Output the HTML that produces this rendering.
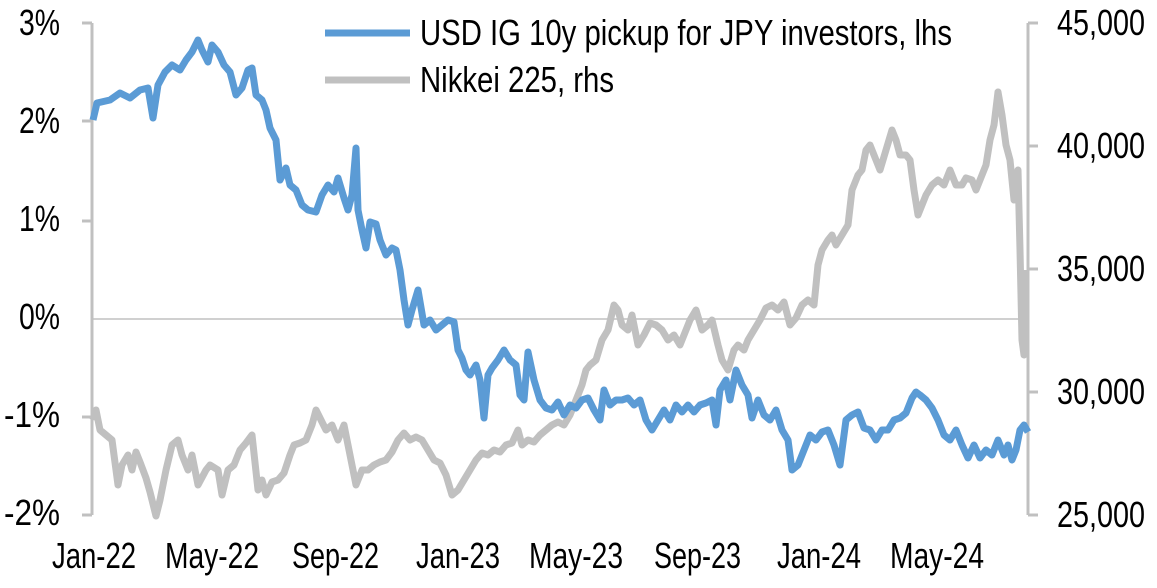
<!DOCTYPE html>
<html><head><meta charset="utf-8"><style>
html,body{margin:0;padding:0;background:#fff;}
svg{display:block;font-family:"Liberation Sans",Arial,sans-serif;}
text{font-size:36px;fill:#000;}
</style></head><body>
<svg width="1157" height="588" viewBox="0 0 1157 588">
<line x1="92" y1="319" x2="1028" y2="319" stroke="#d0d0d0" stroke-width="2"/>
<g stroke="#c0c0c0" stroke-width="3" fill="none">
<line x1="92" y1="23" x2="92" y2="515"/>
<line x1="82" y1="515" x2="92" y2="515"/>
<line x1="82" y1="417" x2="92" y2="417"/>
<line x1="82" y1="221" x2="92" y2="221"/>
<line x1="82" y1="121" x2="92" y2="121"/>
<line x1="82" y1="23" x2="92" y2="23"/>
<line x1="1028" y1="23" x2="1028" y2="515"/>
<line x1="1028" y1="515" x2="1038" y2="515"/>
<line x1="1028" y1="392" x2="1038" y2="392"/>
<line x1="1028" y1="269" x2="1038" y2="269"/>
<line x1="1028" y1="146" x2="1038" y2="146"/>
<line x1="1028" y1="23" x2="1038" y2="23"/>
</g>
<g>
<text x="19" y="35" textLength="41" lengthAdjust="spacingAndGlyphs">3%</text>
<text x="19" y="133" textLength="41" lengthAdjust="spacingAndGlyphs">2%</text>
<text x="19" y="231" textLength="41" lengthAdjust="spacingAndGlyphs">1%</text>
<text x="19" y="329" textLength="41" lengthAdjust="spacingAndGlyphs">0%</text>
<text x="4" y="427" textLength="56" lengthAdjust="spacingAndGlyphs">-1%</text>
<text x="4" y="525" textLength="56" lengthAdjust="spacingAndGlyphs">-2%</text>
<text x="1057" y="35" textLength="88" lengthAdjust="spacingAndGlyphs">45,000</text>
<text x="1057" y="158" textLength="88" lengthAdjust="spacingAndGlyphs">40,000</text>
<text x="1057" y="281" textLength="88" lengthAdjust="spacingAndGlyphs">35,000</text>
<text x="1057" y="404" textLength="88" lengthAdjust="spacingAndGlyphs">30,000</text>
<text x="1057" y="527" textLength="88" lengthAdjust="spacingAndGlyphs">25,000</text>
<text x="52" y="568" textLength="84" lengthAdjust="spacingAndGlyphs">Jan-22</text>
<text x="165" y="568" textLength="94" lengthAdjust="spacingAndGlyphs">May-22</text>
<text x="292" y="568" textLength="87" lengthAdjust="spacingAndGlyphs">Sep-22</text>
<text x="416" y="568" textLength="84" lengthAdjust="spacingAndGlyphs">Jan-23</text>
<text x="529" y="568" textLength="94" lengthAdjust="spacingAndGlyphs">May-23</text>
<text x="654" y="568" textLength="87" lengthAdjust="spacingAndGlyphs">Sep-23</text>
<text x="777" y="568" textLength="84" lengthAdjust="spacingAndGlyphs">Jan-24</text>
<text x="890" y="568" textLength="94" lengthAdjust="spacingAndGlyphs">May-24</text>
</g>
<polyline fill="none" stroke="#c0c0c0" stroke-width="7" stroke-linejoin="round" points="93,420 96,410 100,430 106,435 112,440 118,485 122,465 128,455 132,470 136,452 140,462 146,478 150,492 156,516 160,500 166,470 172,445 178,440 182,455 188,470 192,455 198,485 206,470 210,465 218,470 222,495 228,470 234,465 240,450 246,443 252,435 258,490 262,480 266,495 272,482 278,480 284,473 290,455 294,445 300,443 306,440 312,425 316,410 320,418 326,430 332,425 338,440 344,425 350,455 356,485 362,470 368,470 374,465 380,462 386,460 392,452 398,440 404,433 410,440 416,437 422,440 428,450 434,460 440,463 446,475 452,495 458,490 464,480 470,470 476,460 482,453 488,455 494,450 500,452 506,445 512,443 518,430 522,445 528,440 534,442 540,435 546,430 552,425 558,422 564,425 570,415 576,400 582,385 586,370 590,365 596,360 602,340 608,330 614,305 618,310 622,325 628,330 632,315 638,345 644,335 650,323 656,325 662,330 668,340 674,335 680,345 686,330 690,320 696,310 702,330 708,325 712,320 718,345 722,360 728,370 734,350 738,345 744,350 748,340 754,330 760,320 766,308 772,305 778,310 784,302 790,325 796,318 802,305 808,300 814,305 818,265 822,250 828,240 832,235 836,245 842,235 848,225 852,190 858,175 862,170 866,150 870,145 876,160 880,170 886,150 892,130 896,140 900,155 906,155 910,160 914,190 918,215 922,205 926,195 932,185 938,180 944,185 950,170 956,185 962,185 966,178 972,180 976,190 982,175 986,165 990,140 994,125 998,92 1002,115 1006,145 1010,160 1014,200 1018,170 1020,250 1022,340 1024,355 1026,270"/>
<polyline fill="none" stroke="#5b9bd5" stroke-width="7" stroke-linejoin="round" points="93,120 97,103 110,100 120,93 130,98 140,90 148,88 153,118 158,85 165,72 172,65 180,70 186,60 192,52 198,40 202,50 208,62 212,45 218,52 224,65 230,72 236,95 242,88 248,70 252,68 256,95 262,100 266,110 270,128 276,140 280,180 286,168 290,185 296,190 302,205 308,210 316,212 322,195 328,185 334,192 338,178 344,198 348,210 352,195 356,148 358,210 362,230 366,248 370,222 376,224 380,240 386,255 392,248 396,250 400,270 404,300 408,325 412,310 418,290 424,325 430,320 436,330 442,325 448,320 454,322 458,350 462,358 466,370 470,375 476,365 480,380 484,418 488,375 492,368 498,360 504,350 510,360 516,365 520,395 524,400 528,352 534,380 540,400 546,408 552,410 558,402 564,415 570,405 576,408 582,400 588,398 594,410 600,420 604,390 610,405 616,400 622,400 628,398 634,405 640,400 646,420 652,430 658,420 664,410 670,420 676,405 682,412 688,405 694,412 700,405 706,403 712,400 716,425 720,390 726,380 730,400 736,370 742,385 748,395 752,418 758,400 764,415 770,420 776,410 782,430 788,440 792,470 798,465 804,450 810,435 816,440 822,432 828,430 834,445 840,465 846,420 852,415 858,412 864,428 870,430 876,440 882,430 888,430 894,420 900,418 906,413 912,398 916,392 920,395 926,400 932,408 938,420 944,435 950,440 956,430 962,445 968,458 974,445 980,458 986,450 992,455 998,440 1004,455 1008,445 1012,460 1016,450 1020,430 1024,425 1028,432"/>
<line x1="325" y1="33" x2="410" y2="33" stroke="#5b9bd5" stroke-width="7"/>
<line x1="325" y1="80" x2="410" y2="80" stroke="#c0c0c0" stroke-width="7"/>
<text x="420" y="45" textLength="532" lengthAdjust="spacingAndGlyphs">USD IG 10y pickup for JPY investors, lhs</text>
<text x="420" y="92" textLength="194" lengthAdjust="spacingAndGlyphs">Nikkei 225, rhs</text>
</svg>
</body></html>
